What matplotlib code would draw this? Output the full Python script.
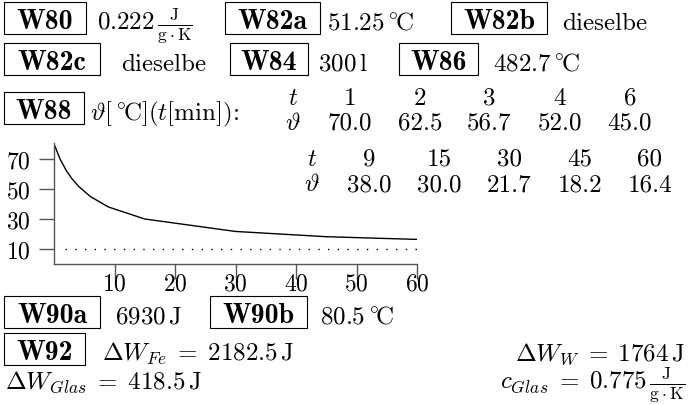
import matplotlib
matplotlib.use('Agg')
import matplotlib.pyplot as plt
from matplotlib.patches import Rectangle

t_min = [1, 2, 3, 4, 6, 9, 15, 30, 45, 60]
theta = [70.0, 62.5, 56.7, 52.0, 45.0, 38.0, 30.0, 21.7, 18.2, 16.4]
t_start = 0
theta_start = 80.0
ambient = 10
ambient_span = [1.8, 60]
x_ticks = [10, 20, 30, 40, 50, 60]
y_ticks = [10, 30, 50, 70]

plt.rcParams['mathtext.fontset'] = 'cm'
plt.rcParams['font.family'] = 'serif'
plt.rcParams['font.serif'] = ['cmr10', 'DejaVu Serif']
plt.rcParams['axes.formatter.use_mathtext'] = True

W, H = 688, 406
FS = 18
FS_B = 20
fig = plt.figure(figsize=(W / 100, H / 100), dpi=100)


def put(x, y, s, ha='left'):
	fig.text(x / W, 1 - y / H, s, fontsize=FS, ha=ha, va='baseline')


def label(x0, x1, base, s):
	# bold task number inside a framed box (x0..x1 are the frame edges in px)
	fig.text((x0 + x1) / 2 / W, 1 - (base - 1) / H, s, fontsize=FS_B, fontfamily='cmb10',
		ha='center', va='baseline')
	fig.patches.append(Rectangle((x0 / W, 1 - (base + 5) / H), (x1 - x0) / W, 32 / H,
		transform=fig.transFigure, fill=False, ec='black', lw=0.8))


unit_frac = r'\frac{\mathrm{J}}{\mathrm{g}\cdot\mathrm{K}}'
deg_c = r'{}^{\circ}\!\mathrm{C}'

# row 1
label(4, 86, 30, 'W80')
put(97, 30, r'$0.222\,' + unit_frac + '$')
label(225, 320, 30, 'W82a')
put(327, 30, r'$51.25\,' + deg_c + '$')
label(451, 547, 30, 'W82b')
put(562, 30, r'$\mathrm{dieselbe}$')

# row 2
label(4, 100, 71, 'W82c')
put(121, 71, r'$\mathrm{dieselbe}$')
label(230, 308, 71, 'W84')
put(318, 71, r'$300\,\mathrm{l}$')
label(399, 478, 71, 'W86')
put(493, 71, r'$482.7\,' + deg_c + '$')

# row 3 with the two value tables
label(4, 84, 120, 'W88')
put(90, 120, r'$\vartheta[\,' + deg_c + r'](t[\mathrm{min}])$:')

cols1 = [350, 420, 489, 560, 630]
cols2 = [369, 439, 509, 580, 650]
put(293, 105, r'$t$', ha='center')
put(293, 130, r'$\vartheta$', ha='center')
put(312, 166, r'$t$', ha='center')
put(312, 191, r'$\vartheta$', ha='center')
for i in range(5):
	put(cols1[i], 105, str(t_min[i]), ha='center')
	put(cols1[i], 130, '%.1f' % theta[i], ha='center')
	put(cols2[i], 166, str(t_min[i + 5]), ha='center')
	put(cols2[i], 191, '%.1f' % theta[i + 5], ha='center')

# the plot
ax = fig.add_axes([54 / W, (H - 265) / H, 363 / W, 121.5 / H])
ax.plot([t_start] + t_min, [theta_start] + theta, color='black', lw=1.0)
ax.plot(ambient_span, [ambient, ambient], color='black', lw=1.0, ls=(0, (1, 6)))
ax.set_xlim(0, 60)
ax.set_ylim(0, 81)
ax.set_xticks(x_ticks)
ax.set_yticks(y_ticks)
ax.spines['top'].set_visible(False)
ax.spines['right'].set_visible(False)
for side in ['left', 'bottom']:
	ax.spines[side].set_color('#555555')
	ax.spines[side].set_linewidth(1.0)
ax.tick_params(axis='x', direction='out', length=11, width=1.0, color='#555555',
	pad=-5, labelsize=17)
ax.tick_params(axis='y', direction='out', length=11, width=1.0, color='#555555',
	pad=6, labelsize=17)
ax.patch.set_alpha(0)

# bottom rows
label(4, 100, 324, 'W90a')
put(115, 324, r'$6930\,\mathrm{J}$')
label(210, 307, 324, 'W90b')
put(320, 324, r'$80.5\,' + deg_c + '$')

label(4, 85, 361, 'W92')
put(102, 361, r'$\Delta W_{Fe}\;=\;2182.5\,\mathrm{J}$')
put(685, 361, r'$\Delta W_{W}\;=\;1764\,\mathrm{J}$', ha='right')
put(5, 389, r'$\Delta W_{Glas}\;=\;418.5\,\mathrm{J}$')
put(685, 389, r'$c_{Glas}\;=\;0.775\,' + unit_frac + '$', ha='right')

plt.savefig('out.png', dpi=100)
